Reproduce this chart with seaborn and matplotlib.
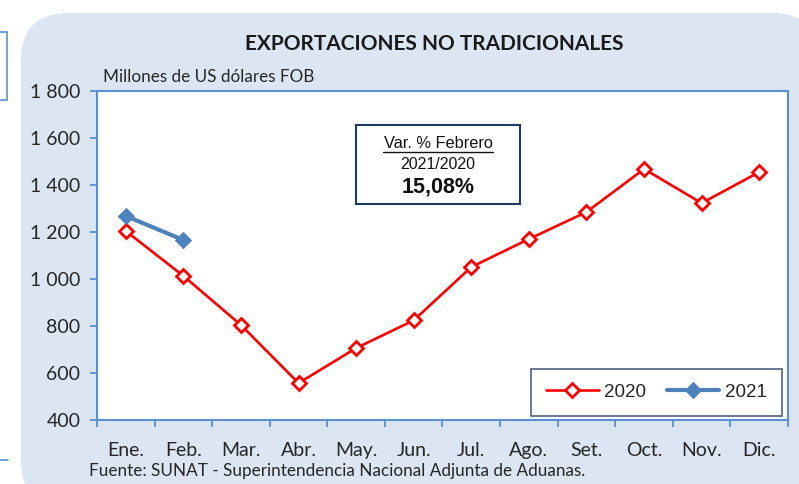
import numpy as np
import pandas as pd
import seaborn as sns
import matplotlib.pyplot as plt
from matplotlib.patches import FancyBboxPatch
from matplotlib.lines import Line2D

# %%
meses = ['Ene.', 'Feb.', 'Mar.', 'Abr.', 'May.', 'Jun.',
         'Jul.', 'Ago.', 'Set.', 'Oct.', 'Nov.', 'Dic.']
valores_2020 = [1204, 1013, 804, 557, 706, 824, 1051, 1170, 1285, 1468, 1323, 1455]
valores_2021 = [1268, 1166]
yticks = [400, 600, 800, 1000, 1200, 1400, 1600, 1800]

df = pd.concat([
    pd.DataFrame({'mes': np.arange(len(valores_2020)), 'valor': valores_2020, 'anio': '2020'}),
    pd.DataFrame({'mes': np.arange(len(valores_2021)), 'valor': valores_2021, 'anio': '2021'}),
])

# %%
sns.set_theme(style='white')
plt.rcParams['font.family'] = ['Lato', 'DejaVu Sans']

fig = plt.figure(figsize=(7.99, 4.84), dpi=100)
W, H = 799, 484

# background panel
panel = FancyBboxPatch((21 / W, -0.05), 1.0, (484 - 13) / H + 0.05,
                       boxstyle='round,pad=0,rounding_size=0.06',
                       transform=fig.transFigure, facecolor='#dce6f2',
                       edgecolor='none', mutation_aspect=W / H, zorder=-5)
fig.patches.append(panel)

# fragments of the neighbouring box on the left
blue = '#5b8fd6'
fig.add_artist(Line2D([7 / W, 7 / W], [1 - 32 / H, 1 - 100 / H], color=blue, lw=1.2))
fig.add_artist(Line2D([0, 7 / W], [1 - 32 / H, 1 - 32 / H], color=blue, lw=1.2))
fig.add_artist(Line2D([0, 7 / W], [1 - 100 / H, 1 - 100 / H], color=blue, lw=1.2))
fig.add_artist(Line2D([0, 8 / W], [1 - 460 / H, 1 - 460 / H], color=blue, lw=1.2))

x0, x1, y0, y1 = 97, 788, 91, 420
ax = fig.add_axes([x0 / W, 1 - y1 / H, (x1 - x0) / W, (y1 - y0) / H])
ax.set_zorder(2)
ax.set_facecolor('white')

sub20 = df[df['anio'] == '2020']
sub21 = df[df['anio'] == '2021']
sns.lineplot(data=sub20, x='mes', y='valor', ax=ax, color='#ff0000', lw=1.9,
             marker='D', markersize=7, markerfacecolor='white',
             markeredgecolor='#ff0000', markeredgewidth=2, label='2020')
sns.lineplot(data=sub21, x='mes', y='valor', ax=ax, color='#4f81bd', lw=3,
             marker='D', markersize=8, markerfacecolor='#4f81bd',
             markeredgecolor='#4f81bd', label='2021')

ax.set_xlim(-0.5, 11.5)
ax.set_ylim(400, 1800)
ax.set_xlabel('')
ax.set_ylabel('')
ax.set_yticks(yticks)
ax.set_yticklabels([f'{v:,}'.replace(',', ' ') for v in yticks])
ax.set_xticks(np.arange(12))
ax.set_xticklabels(meses)
ax.set_xticks(np.arange(-0.5, 12, 1), minor=True)
ax.tick_params(axis='x', which='major', length=0, pad=16, labelsize=14, colors='#262626')
ax.tick_params(axis='x', which='minor', length=5, width=1.3, color=blue, direction='out')
ax.tick_params(axis='y', length=5, width=1.3, color=blue, direction='out',
               labelsize=14, labelcolor='#262626', pad=7)
ax.tick_params(axis='x', bottom=True, which='both')
ax.tick_params(axis='y', left=True)
for s in ax.spines.values():
    s.set_color(blue)
    s.set_linewidth(1.5)

leg = ax.legend(loc='lower right', ncol=2, frameon=True, fancybox=False,
                edgecolor='#1f3864', handlelength=2.8, handletextpad=0.3,
                columnspacing=1.1, borderpad=0.8, borderaxespad=0,
                bbox_to_anchor=(0.991, 0.012),
                prop={'family': 'Liberation Sans', 'size': 13.5})
leg.get_frame().set_linewidth(1.2)

# annotation box
bx0, bx1, by0, by1 = 356, 520, 125, 204
ax_box = fig.add_axes([bx0 / W, 1 - by1 / H, (bx1 - bx0) / W, (by1 - by0) / H])
ax_box.set_zorder(3)
ax_box.set_xticks([])
ax_box.set_yticks([])
ax_box.set_facecolor('white')
for s in ax_box.spines.values():
    s.set_color('#1f3864')
    s.set_linewidth(1.5)
ax_box.text(0.5, 0.77, 'Var. % Febrero', ha='center', va='center', fontsize=11.8,
            family='Liberation Sans', color='#111111', transform=ax_box.transAxes)
ax_box.add_artist(Line2D([0.165, 0.835], [0.655, 0.655], color='#111111', lw=1,
                         transform=ax_box.transAxes))
ax_box.text(0.5, 0.50, '2021/2020', ha='center', va='center', fontsize=11.5,
            family='Liberation Sans', color='#111111', transform=ax_box.transAxes)
ax_box.text(0.5, 0.21, '15,08%', ha='center', va='center', fontsize=15.5,
            family='Liberation Sans', weight='bold', color='#111111',
            transform=ax_box.transAxes)

fig.text(434 / W, 1 - 44 / H, 'EXPORTACIONES NO TRADICIONALES', ha='center',
         va='center', fontsize=15, weight='bold', color='#1a1a1a')
fig.text(103 / W, 1 - 77 / H, 'Millones de US dólares FOB', ha='left',
         va='center', fontsize=12.3, color='#262626')
fig.text(89 / W, 1 - 471 / H, 'Fuente: SUNAT - Superintendencia Nacional Adjunta de Aduanas.',
         ha='left', va='center', fontsize=12.3, color='#262626')

fig.savefig('out.png', dpi=100)
